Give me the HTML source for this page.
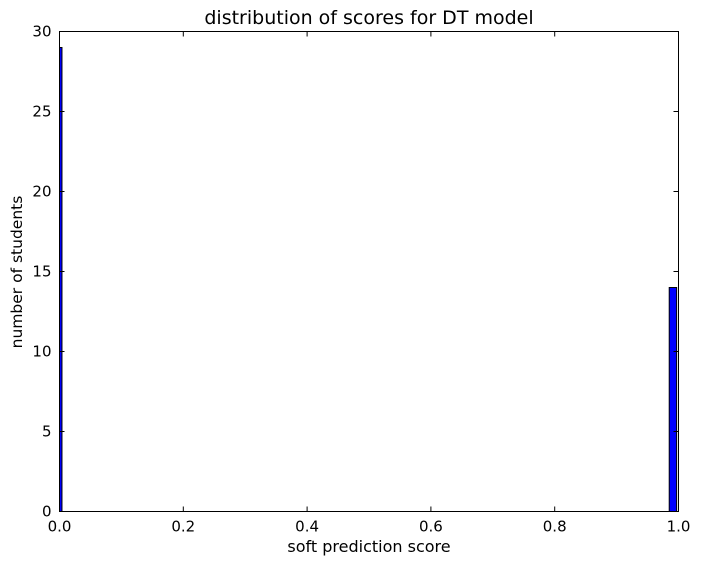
<!DOCTYPE html>
<html><head><meta charset="utf-8"><style>
body{margin:0;background:#fff;}
svg text{font-family:"DejaVu Sans","Liberation Sans",sans-serif;fill:#000;}
</style></head><body>
<svg width="702" height="564" xmlns="http://www.w3.org/2000/svg">
<rect width="702" height="564" fill="#fff"/>
<text x="369" y="24" font-size="19" text-anchor="middle">distribution of scores for DT model</text>
<text x="369" y="552" font-size="16" text-anchor="middle">soft prediction score</text>
<text transform="translate(22,272) rotate(-90)" font-size="15.5" text-anchor="middle">number of students</text>
<g id="bars"></g>
<g id="ticks"></g>
<rect x="59.5" y="31.5" width="619" height="480" fill="none" stroke="#000" stroke-width="1"/>
</svg>
<script>
const binStarts=[0,0.985];
const binEnds=[0.004,0.997];
const counts=[29,14];
const xTicks=[0,0.2,0.4,0.6,0.8,1.0];
const xTickLabels=["0.0","0.2","0.4","0.6","0.8","1.0"];
const yTicks=[0,5,10,15,20,25,30];
const yTickLabels=["0","5","10","15","20","25","30"];
const X0=59.5,X1=678.5,Y0=511.5,Y1=31.5;
const xs=v=>X0+(X1-X0)*v;
const ys=v=>Y0-(Y0-Y1)*v/30;
const NS="http://www.w3.org/2000/svg";
const bars=document.getElementById('bars');
counts.forEach((c,i)=>{
 const r=document.createElementNS(NS,'rect');
 r.setAttribute('x',xs(binStarts[i]));
 r.setAttribute('y',ys(c));
 r.setAttribute('width',xs(binEnds[i])-xs(binStarts[i]));
 r.setAttribute('height',ys(0)-ys(c));
 r.setAttribute('fill','#0000ff');
 r.setAttribute('stroke','#000');
 r.setAttribute('stroke-width','1');
 
 
 bars.appendChild(r);
});
const tk=document.getElementById('ticks');
function line(x1,y1,x2,y2){const l=document.createElementNS(NS,'line');l.setAttribute('x1',x1);l.setAttribute('y1',y1);l.setAttribute('x2',x2);l.setAttribute('y2',y2);l.setAttribute('stroke','#000');tk.appendChild(l);return l;}
xTicks.forEach((v,i)=>{
 const x=xs(v);
 const a=line(x,Y0,x,Y0-5);
 
 
 const b=line(x,Y1,x,Y1+5);
 
 
 const t=document.createElementNS(NS,'text');
 t.setAttribute('x',x);t.setAttribute('y',Y0+20);t.setAttribute('font-size','15');t.setAttribute('text-anchor','middle');
 t.textContent=xTickLabels[i];
 
 
 tk.appendChild(t);
});
yTicks.forEach((v,i)=>{
 const y=ys(v);
 const a=line(X0,y,X0+5,y);
 
 
 const b=line(X1,y,X1-5,y);
 
 
 const t=document.createElementNS(NS,'text');
 t.setAttribute('x',X0-8);t.setAttribute('y',y+5);t.setAttribute('font-size','15');t.setAttribute('text-anchor','end');
 t.textContent=yTickLabels[i];
 
 
 tk.appendChild(t);
});
</script>
</body></html>
